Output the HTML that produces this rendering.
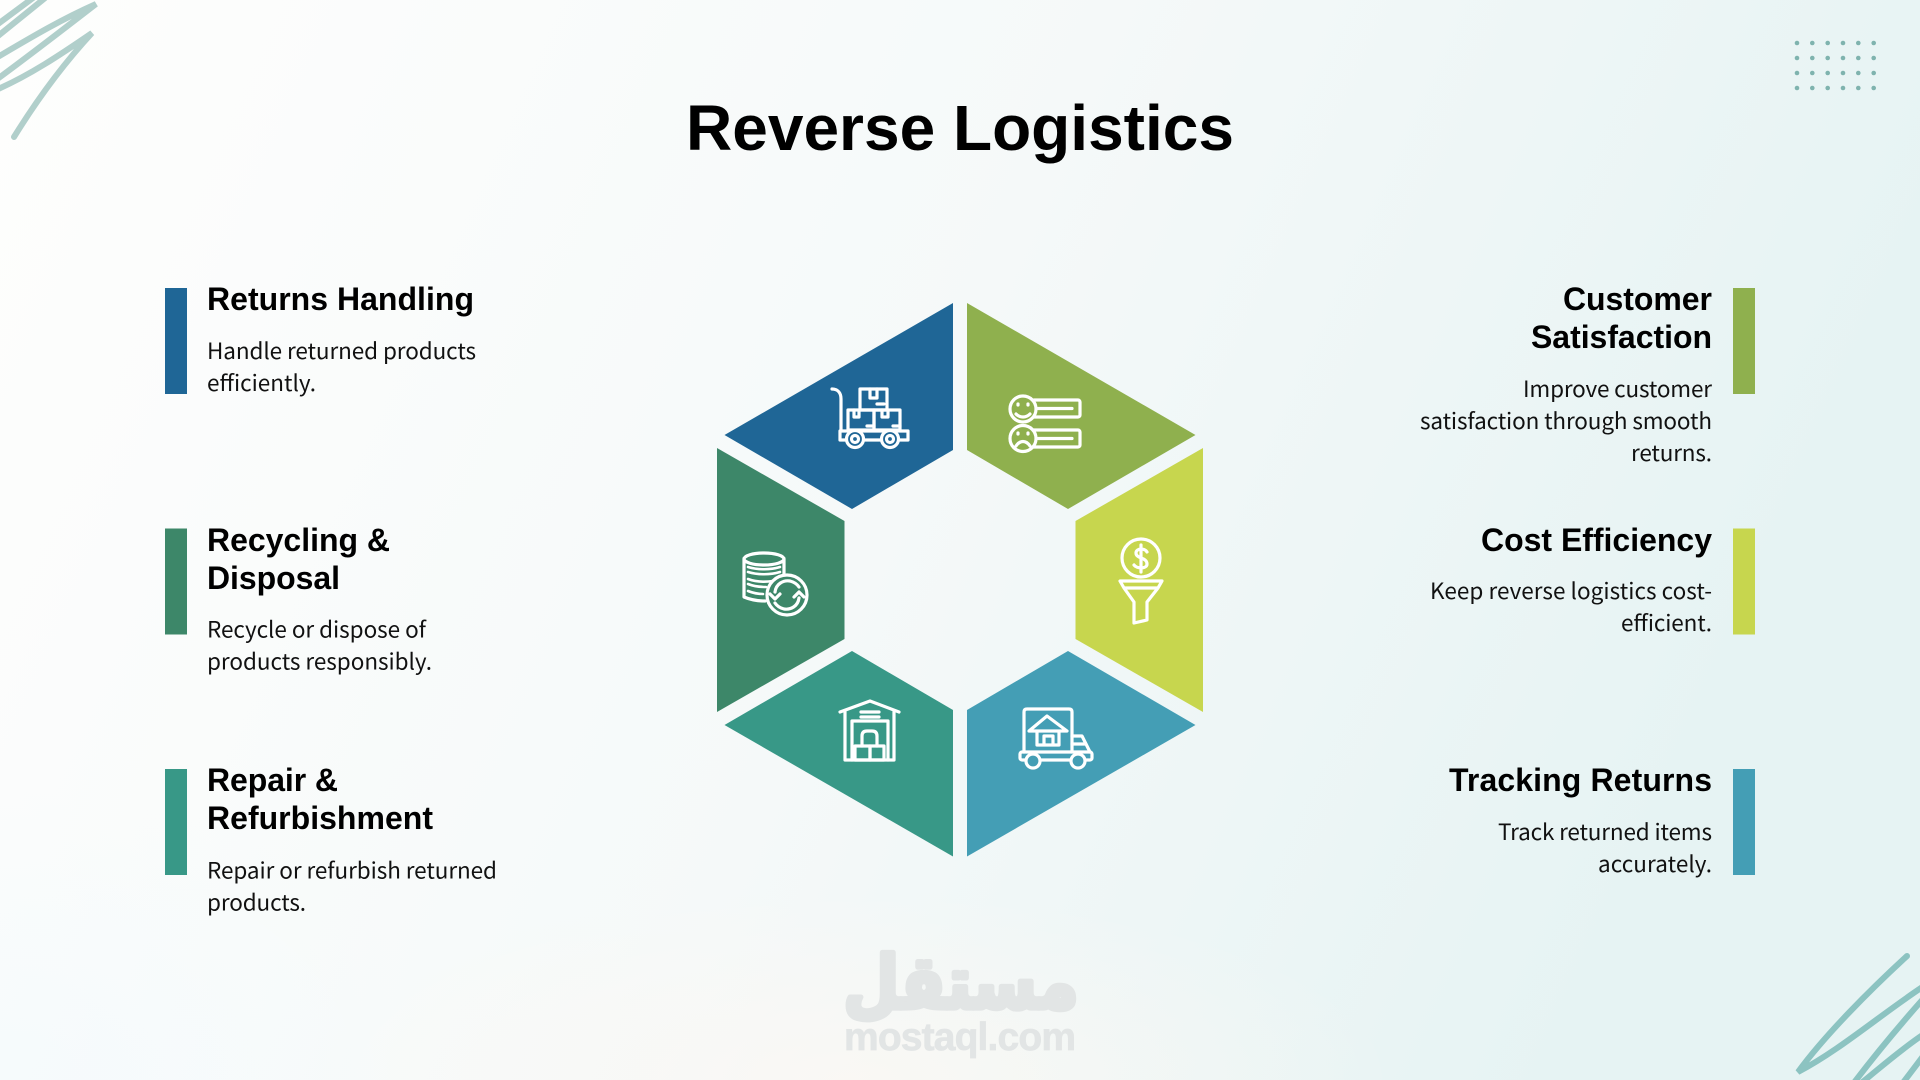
<!DOCTYPE html>
<html><head><meta charset="utf-8"><style>
html,body{margin:0;padding:0;width:1920px;height:1080px;overflow:hidden}
svg{display:block}
.h{font:bold 32px "Liberation Sans",sans-serif;fill:#000}
.d{font:22.5px "Noto Sans CJK JP","Liberation Sans",sans-serif;fill:#111}
.i{fill:none;stroke:#fff;stroke-width:3.2;stroke-linecap:round;stroke-linejoin:round}
</style></head><body>
<svg width="1920" height="1080" viewBox="0 0 1920 1080" xmlns="http://www.w3.org/2000/svg">
<defs>
<linearGradient id="bg" x1="0" y1="0" x2="1" y2="0.25"><stop offset="0" stop-color="#fefefd"/><stop offset=".55" stop-color="#f5f9f9"/><stop offset="1" stop-color="#e6f3f3"/></linearGradient>
<radialGradient id="warm" cx="0.5" cy="1" r="0.5"><stop offset="0" stop-color="#fdf8f3" stop-opacity=".7"/><stop offset="1" stop-color="#fdf8f3" stop-opacity="0"/></radialGradient>
<radialGradient id="cool" cx="0" cy="1" r="0.5"><stop offset="0" stop-color="#f3fafd" stop-opacity=".6"/><stop offset="1" stop-color="#f3fafd" stop-opacity="0"/></radialGradient>
</defs>
<rect width="1920" height="1080" fill="url(#bg)"/>
<rect x="300" y="700" width="1100" height="380" fill="url(#warm)"/>
<rect x="0" y="500" width="900" height="580" fill="url(#cool)"/>
<g fill="none" stroke="#b1cfcb" stroke-width="6" stroke-linecap="round">
<path d="M14,137C40,95 67,60 92,33C60,55 30,75 -4,90"/>
<path d="M-4,80C30,55 65,28 96,4C60,20 30,38 -4,58"/>
<path d="M-2,24L33,-2M-2,36L45,-2"/>
</g>
<g fill="none" stroke="#8cc3c1" stroke-width="6" stroke-linecap="round">
<path d="M1907,956C1870,990 1825,1035 1798,1072C1840,1050 1880,1015 1924,986"/>
<path d="M1853,1084C1875,1055 1900,1025 1924,998"/>
<path d="M1860,1084C1880,1068 1900,1050 1924,1034"/>
<path d="M1902,1084L1924,1055"/>
</g>
<g fill="#7fb3ae">
<circle cx="1797" cy="43" r="2.3"/><circle cx="1812.3" cy="43" r="2.3"/><circle cx="1827.7" cy="43" r="2.3"/><circle cx="1843" cy="43" r="2.3"/><circle cx="1858.3" cy="43" r="2.3"/><circle cx="1873.7" cy="43" r="2.3"/>
<circle cx="1797" cy="58" r="2.3"/><circle cx="1812.3" cy="58" r="2.3"/><circle cx="1827.7" cy="58" r="2.3"/><circle cx="1843" cy="58" r="2.3"/><circle cx="1858.3" cy="58" r="2.3"/><circle cx="1873.7" cy="58" r="2.3"/>
<circle cx="1797" cy="73" r="2.3"/><circle cx="1812.3" cy="73" r="2.3"/><circle cx="1827.7" cy="73" r="2.3"/><circle cx="1843" cy="73" r="2.3"/><circle cx="1858.3" cy="73" r="2.3"/><circle cx="1873.7" cy="73" r="2.3"/>
<circle cx="1797" cy="88" r="2.3"/><circle cx="1812.3" cy="88" r="2.3"/><circle cx="1827.7" cy="88" r="2.3"/><circle cx="1843" cy="88" r="2.3"/><circle cx="1858.3" cy="88" r="2.3"/><circle cx="1873.7" cy="88" r="2.3"/>
</g>

<text x="686" y="150" font-family="Liberation Sans" font-weight="bold" font-size="64" textLength="548" fill="#000">Reverse Logistics</text>

<rect x="165" y="288" width="22" height="106" fill="#1f6696"/>
<rect x="165" y="528.5" width="22" height="106" fill="#3d8769"/>
<rect x="165" y="769" width="22" height="106" fill="#389887"/>
<rect x="1733" y="288" width="22" height="106" fill="#8fb04e"/>
<rect x="1733" y="528.5" width="22" height="106" fill="#c7d64e"/>
<rect x="1733" y="769" width="22" height="106" fill="#449eb5"/>

<text class="h" x="207" y="310" textLength="267">Returns Handling</text>
<text class="d" x="207" y="359" textLength="269">Handle returned products</text>
<text class="d" x="207" y="391" textLength="109">efficiently.</text>
<text class="h" x="207" y="551" textLength="183">Recycling &amp;</text>
<text class="h" x="207" y="589" textLength="133">Disposal</text>
<text class="d" x="207" y="637.5" textLength="219">Recycle or dispose of</text>
<text class="d" x="207" y="669.5" textLength="225">products responsibly.</text>
<text class="h" x="207" y="791" textLength="131">Repair &amp;</text>
<text class="h" x="207" y="829" textLength="226">Refurbishment</text>
<text class="d" x="207" y="878.5" textLength="290">Repair or refurbish returned</text>
<text class="d" x="207" y="910.5" textLength="99">products.</text>

<text class="h" x="1563" y="310" textLength="149">Customer</text>
<text class="h" x="1531" y="348" textLength="181">Satisfaction</text>
<text class="d" x="1523" y="397" textLength="189">Improve customer</text>
<text class="d" x="1420" y="429" textLength="292">satisfaction through smooth</text>
<text class="d" x="1631" y="461" textLength="81">returns.</text>
<text class="h" x="1481" y="551" textLength="231">Cost Efficiency</text>
<text class="d" x="1430" y="599" textLength="282">Keep reverse logistics cost-</text>
<text class="d" x="1621" y="631" textLength="91">efficient.</text>
<text class="h" x="1449" y="791" textLength="263">Tracking Returns</text>
<text class="d" x="1498" y="840" textLength="214">Track returned items</text>
<text class="d" x="1598" y="872" textLength="114">accurately.</text>

<polygon points="953,303 953,450 852,509 724.5,435" fill="#1f6696"/>
<polygon points="967,303 967,450 1068,509 1195.5,435" fill="#8fb04e"/>
<polygon points="717,448 844.5,521 844.5,639 717,712" fill="#3d8769"/>
<polygon points="1203,448 1075.5,521 1075.5,639 1203,712" fill="#c7d64e"/>
<polygon points="724.5,725 852,651 953,710 953,856.5" fill="#389887"/>
<polygon points="1195.5,725 1068,651 967,710 967,856.5" fill="#449eb5"/>

<!-- cart -->
<g class="i">
<path d="M832,389C838,389 841,393 841,399L841,431"/>
<rect x="860" y="389" width="27" height="21"/>
<rect x="848" y="410" width="26" height="20"/>
<rect x="874" y="410" width="26" height="20"/>
<path d="M870,389V398H877V389M854,410V417H859V410M882,410V417H888V410M877,404H884M867,426H874M893,426H900"/>
<rect x="840" y="431" width="68" height="9"/>
<circle cx="855" cy="439" r="8.5" fill="#1f6696"/><circle cx="855" cy="439" r="3.5"/>
<circle cx="890" cy="439" r="8.5" fill="#1f6696"/><circle cx="890" cy="439" r="3.5"/>
</g>
<!-- faces -->
<g class="i">
<rect x="1032" y="400" width="48" height="17" rx="2"/>
<rect x="1032" y="430" width="48" height="17" rx="2"/>
<path d="M1038,408.500H1072M1038,438.500H1072"/>
<circle cx="1023" cy="409" r="13" fill="#8fb04e"/>
<circle cx="1023" cy="438.500" r="13" fill="#8fb04e"/>
<path d="M1016,414C1020,418 1026,418 1030,414M1016,446C1020,440 1026,440 1030,446M1018,404V405M1028,404V405M1018,433V434M1028,433V434"/>
</g>
<!-- database -->
<g class="i">
<ellipse cx="764" cy="559" rx="20" ry="6"/>
<path d="M744,559V597C751,600 757,601 765,601M784,559V578"/>
<g stroke-width="2.6">
<path d="M748,567C758,570 770,570 780,567M748,572C758,575 770,575 780,572"/>
<path d="M748,579C756,582 766,582 773,581M748,584C753,586 759,587 766,587"/>
<path d="M748,591C753,593 758,594 763,594"/>
</g>
<circle cx="787" cy="595" r="20" fill="#3d8769"/>
<path d="M775,592C776,584 783,580 790,581C794,582 797,584 799,587M799,598C798,606 791,610 784,609C780,608 777,606 775,603"/>
<path d="M770,594L775,599L780,594M794,597L799,592L804,597"/>
</g>
<!-- funnel -->
<g class="i">
<circle cx="1141" cy="558" r="19"/>
<path d="M1147,552C1145,548 1136,548 1136,553C1136,559 1147,557 1147,564C1147,569 1137,569 1134,565M1141,545V572" stroke-width="3.2"/>
<path d="M1120,581H1162L1158,588H1124ZM1124,588L1134,602V623L1147,620V602L1158,588"/>
</g>
<!-- warehouse -->
<g class="i">
<path d="M840,712L870,701L899,712M845,712V760H894V712"/>
<path d="M852,760V721H888V760"/>
<path d="M861,712H879M861,717H879"/>
<path d="M862,746V736Q862,731 867,731H872Q877,731 877,736V746"/>
<rect x="855" y="746" width="15" height="14"/>
<rect x="870" y="746" width="14" height="14"/>
</g>
<!-- truck -->
<g class="i">
<path d="M1024,752V712Q1024,709 1027,709H1069Q1072,709 1072,712V752"/>
<path d="M1029,731L1047,716L1067,731ZM1037,731V745H1059V731M1044,745V736H1053V745"/>
<path d="M1072,736H1082L1090,752M1072,744H1086"/>
<rect x="1020" y="752" width="72" height="8" rx="2"/>
<circle cx="1033" cy="761" r="7" fill="#449eb5"/>
<circle cx="1078" cy="761" r="7" fill="#449eb5"/>
</g>

<text transform="translate(961 1008) scale(.67 .76)" x="0" y="0" text-anchor="middle" direction="rtl" font-family="DejaVu Sans" font-weight="bold" font-size="96" fill="#e2e5e5" stroke="#e2e5e5" stroke-width="7" stroke-linejoin="round">مستقل</text>
<text x="844" y="1050" font-family="Liberation Sans" font-weight="bold" font-size="39" textLength="232" fill="#e2e5e5" stroke="#e2e5e5" stroke-width="0.7">mostaql.com</text>
</svg>
</body></html>
